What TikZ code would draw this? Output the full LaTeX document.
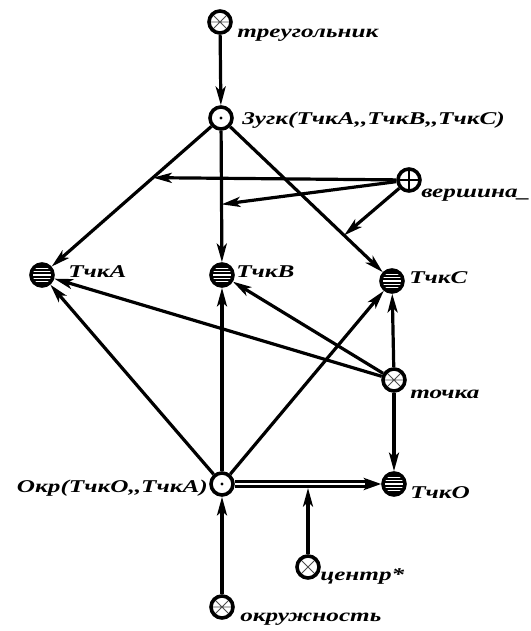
\documentclass[tikz,border=0pt]{standalone}
\usepackage{fontspec}
\newfontfamily\lblfont{Liberation Serif}[FakeStretch=1.4]
\usetikzlibrary{arrows.meta,calc}
\tikzset{
  sym/.style={circle, draw, line width=2.7pt, minimum size=16.5pt, inner sep=0pt, fill=white},
  hatch/.style={sym, path picture={
      \fill[black] (path picture bounding box.south west) rectangle (path picture bounding box.north east);
      \foreach \d in {-4.8,-2.4,0,2.4,4.8}
        \draw[white, line width=0.9pt] ([yshift=\d pt]path picture bounding box.west) -- ([yshift=\d pt]path picture bounding box.east);}},
  dotsym/.style={sym, path picture={\fill[black] (path picture bounding box.center) circle (1.2pt);}},
  plussym/.style={sym, path picture={
      \draw[line width=0.9pt] (path picture bounding box.north) -- (path picture bounding box.south)
        (path picture bounding box.west) -- (path picture bounding box.east);}},
  crosssym/.style={sym, path picture={
      \draw[line width=0.7pt, black!70] (path picture bounding box.north west) -- (path picture bounding box.south east)
        (path picture bounding box.south west) -- (path picture bounding box.north east);}},
  starsym/.style={sym, path picture={
      \draw[line width=0.7pt, black!70] (path picture bounding box.north west) -- (path picture bounding box.south east)
        (path picture bounding box.south west) -- (path picture bounding box.north east)
        (path picture bounding box.west) -- (path picture bounding box.east);}},
  lbl/.style={inner sep=0pt, font=\lblfont\fontsize{13.5}{15}\selectfont\bfseries\itshape},
  edge/.style={line width=2.4pt, -{Stealth[length=14pt,width=7.5pt,inset=3.5pt]}},
}
\begin{document}
\begin{tikzpicture}[x=0.75pt,y=-0.75pt]
\useasboundingbox (0,0) rectangle (531,631);
% nodes
\node[starsym] (tri) at (220,22) {};
\node[dotsym] (zugk) at (221,118) {};
\node[plussym] (vers) at (409,180) {};
\node[hatch] (A) at (42,275) {};
\node[hatch] (B) at (222,275) {};
\node[hatch] (C) at (392,281) {};
\node[starsym] (tochka) at (394,380) {};
\node[hatch] (O) at (394,484) {};
\node[dotsym] (okr) at (222,484) {};
\node[crosssym] (centr) at (308,567) {};
\node[starsym] (okruzh) at (222,607) {};
% labels
\node[lbl, anchor=base west] (Ltri) at (237,38) {треугольник};
\node[lbl, anchor=base west] (Lzugk) at (242,125) {3угк(ТчкА,,ТчкВ,,ТчкС)};
\node[lbl, anchor=base west] (Lvers) at (421,197) {вершина\_};
\node[lbl, anchor=base west] (LA) at (68,277) {ТчкА};
\node[lbl, anchor=base west] (LB) at (236,277) {ТчкВ};
\node[lbl, anchor=base west] (LC) at (409,283) {ТчкС};
\node[lbl, anchor=base west] (Ltochka) at (410,398) {точка};
\node[lbl, anchor=base west] (LO) at (410,498) {ТчкО};
\node[lbl, anchor=base east] (Lokr) at (208,492) {Окр(ТчкО,,ТчкА)};
\node[lbl, anchor=base west] (Lcentr) at (320,580) {центр*};
\node[lbl, anchor=base west] (Lokruzh) at (240,621) {окружность};
% helper coordinates
\coordinate (pA) at ($(zugk)!0.38!(A)$);
\coordinate (pB) at ($(zugk)!0.55!(B)$);
\coordinate (pC) at ($(zugk)!0.72!(C)$);
\coordinate (pO) at ($(okr)!0.5!(O)+(0,4)$);
% edges
\draw[edge] (tri) -- (zugk);
\draw[edge] (zugk) -- (A);
\draw[edge] (zugk) -- (B);
\draw[edge] (zugk) -- (C);
\draw[edge] (vers) -- (pA);
\draw[edge] (vers) -- (pB);
\draw[edge] (vers) -- (pC);
\draw[edge] (tochka) -- (A);
\draw[edge] (tochka) -- (B);
\draw[edge] (tochka) -- (C);
\draw[edge] (tochka) -- (O);
\draw[edge] (okr) -- (A);
\draw[edge] (okr) -- (B);
\draw[edge] (okr) -- (C);
\draw[line width=5.5pt, -{Stealth[length=13pt,width=9pt,inset=3pt]}] (okr) -- (O);
\draw[white, line width=2.2pt, shorten >=12pt] (okr) -- (O);
\draw[edge] (centr) -- (pO);
\draw[edge] (okruzh) -- (okr);
\end{tikzpicture}
\end{document}
